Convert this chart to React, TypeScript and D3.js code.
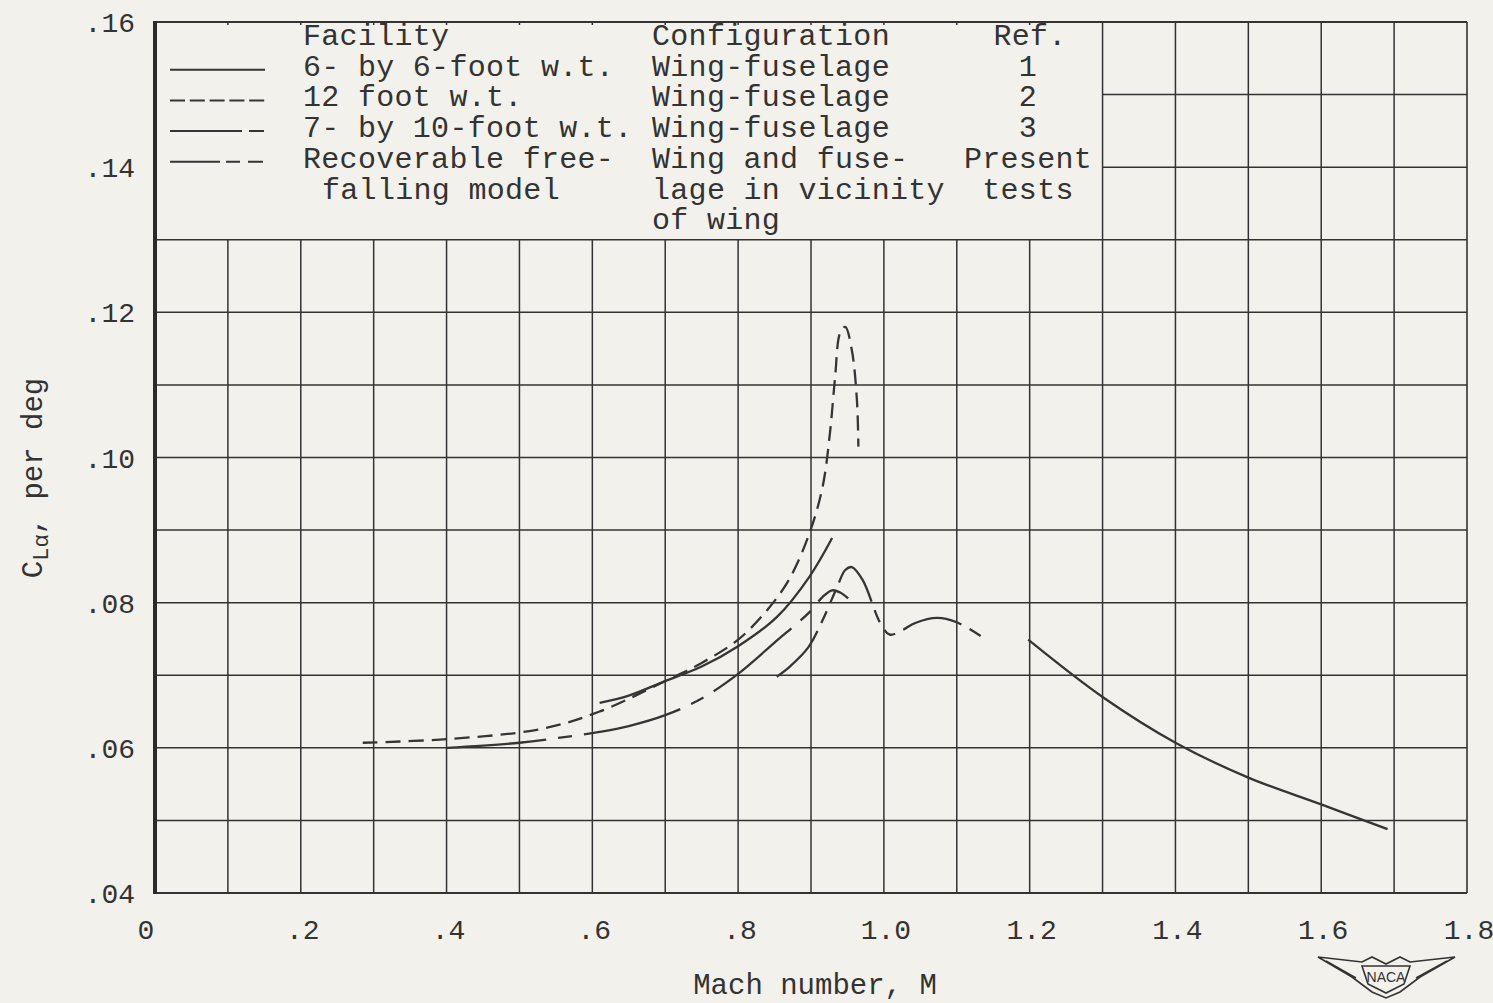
import React from "react";
import * as d3 from "d3";

// ---- data ----
const xTicks = [0, 0.2, 0.4, 0.6, 0.8, 1.0, 1.2, 1.4, 1.6, 1.8];
const xTickLabels = ["0", ".2", ".4", ".6", ".8", "1.0", "1.2", "1.4", "1.6", "1.8"];
const yTicks = [0.04, 0.06, 0.08, 0.1, 0.12, 0.14, 0.16];
const yTickLabels = [".04", ".06", ".08", ".10", ".12", ".14", ".16"];

const m12ft = [0.285, 0.4, 0.53, 0.61, 0.7, 0.75, 0.8, 0.84, 0.87, 0.898, 0.916, 0.926, 0.933, 0.94, 0.947, 0.956, 0.963, 0.965];
const cl12ft = [0.0607, 0.0612, 0.0626, 0.065, 0.0692, 0.0717, 0.0749, 0.079, 0.0832, 0.0896, 0.096, 0.1034, 0.111, 0.1172, 0.118, 0.1148, 0.1079, 0.1015];

const m6x6 = [0.61, 0.65, 0.7, 0.75, 0.8, 0.853, 0.898, 0.929];
const cl6x6 = [0.0662, 0.0672, 0.0692, 0.0712, 0.074, 0.078, 0.0836, 0.0889];

const m7x10 = [0.4, 0.5, 0.556, 0.61, 0.65, 0.7, 0.75, 0.8, 0.85, 0.898, 0.916, 0.929, 0.94, 0.951];
const cl7x10 = [0.06, 0.0607, 0.0614, 0.0622, 0.063, 0.0645, 0.0668, 0.0702, 0.0745, 0.0787, 0.0808, 0.0817, 0.0814, 0.0806];

const mFree1 = [0.853, 0.871, 0.896, 0.916, 0.936, 0.947, 0.956, 0.971, 0.995, 1.008, 1.025, 1.043, 1.073, 1.1, 1.136];
const clFree1 = [0.0698, 0.0712, 0.0738, 0.0776, 0.0822, 0.0845, 0.0849, 0.0831, 0.0772, 0.0756, 0.0762, 0.0772, 0.0779, 0.0773, 0.0752];

const mFree2 = [1.198, 1.3, 1.4, 1.5, 1.6, 1.691];
const clFree2 = [0.0749, 0.067, 0.0607, 0.0559, 0.0522, 0.0488];

const legendFacility = ["6- by 6-foot w.t.", "12 foot w.t.", "7- by 10-foot w.t.", "Recoverable free-"];
const legendConfig = ["Wing-fuselage", "Wing-fuselage", "Wing-fuselage", "Wing and fuse-"];
const legendRef = ["1", "2", "3", "Present"];

const INK = "#333";
const PAPER = "#f2f1ec";
const FONT = "'Liberation Mono', 'DejaVu Sans Mono', monospace";

export default function App() {
  const x = d3.scaleLinear().domain([0, 1.8]).range([155, 1467]);
  const y = d3.scaleLinear().domain([0.04, 0.16]).range([893, 22]);

  const line = d3
    .line<[number, number]>()
    .x((d) => x(d[0]))
    .y((d) => y(d[1]))
    .curve(d3.curveCatmullRom.alpha(0.5));

  const zip = (a: number[], b: number[]) => a.map((v, i) => [v, b[i]] as [number, number]);

  const series = [
    { pts: zip(m12ft, cl12ft), dash: "15,8" },
    { pts: zip(m6x6, cl6x6), dash: "none" },
    { pts: zip(m7x10, cl7x10), dash: "100,12,14,12" },
    { pts: zip(mFree1, clFree1), dash: "62,9,13,9,13,9" },
    { pts: zip(mFree2, clFree2), dash: "none" },
  ];

  const vGrid = d3.range(1, 18).map((i) => i / 10);
  const hGrid = d3.range(5, 16).map((i) => i / 100);

  const legendX0 = 170;
  const legendX1 = 265;
  const rowY = (i: number) => 36 + i * 30.7;
  const legendDash = ["none", "15,4.8", "72,7,15", "50,6,14,8,15"];

  return (
    <svg
      width={1493}
      height={1003}
      style={{ position: "absolute", left: 0, top: 0, background: PAPER }}
    >
      <rect x={0} y={0} width={1493} height={1003} fill={PAPER} />

      {/* grid */}
      <g stroke={INK} strokeWidth={1.5}>
        {vGrid.map((v) => (
          <line
            key={"v" + v}
            x1={x(v)}
            x2={x(v)}
            y1={y(0.04)}
            y2={v < 1.25 ? y(0.13) : y(0.16)}
          />
        ))}
        {hGrid.map((h) => (
          <line
            key={"h" + h}
            x1={h > 0.135 ? x(1.3) : x(0)}
            x2={x(1.8)}
            y1={y(h)}
            y2={y(h)}
          />
        ))}
        {vGrid
          .filter((v) => v < 1.25)
          .map((v) => (
            <line key={"t" + v} x1={x(v)} x2={x(v)} y1={y(0.16)} y2={y(0.16) + 3} />
          ))}
        {/* frame */}
        <line x1={x(0)} x2={x(1.8)} y1={y(0.16)} y2={y(0.16)} strokeWidth={1.8} />
        <line x1={x(0)} x2={x(1.8)} y1={y(0.04)} y2={y(0.04)} strokeWidth={1.8} />
        <line x1={x(1.8)} x2={x(1.8)} y1={y(0.16)} y2={y(0.04)} strokeWidth={1.6} />
        <line x1={x(0)} x2={x(0)} y1={y(0.16) - 1} y2={y(0.04) + 1} strokeWidth={4} stroke="#2a2a2a" />
      </g>

      {/* curves */}
      <g fill="none" stroke="#353535" strokeWidth={2.3} strokeLinecap="butt">
        {series.map((s, i) => (
          <path key={i} d={line(s.pts) || ""} strokeDasharray={s.dash} />
        ))}
      </g>

      {/* legend */}
      <g fontFamily={FONT} fontSize={30} fill={INK} letterSpacing={0.3}>
        <text x={303} y={rowY(0) + 9}>Facility</text>
        <text x={652} y={rowY(0) + 9}>Configuration</text>
        <text x={1030} y={rowY(0) + 9} textAnchor="middle">Ref.</text>
        {legendFacility.map((t, i) => (
          <g key={t}>
            <line
              x1={legendX0}
              x2={legendX1}
              y1={rowY(i + 1) + 3}
              y2={rowY(i + 1) + 3}
              stroke="#353535"
              strokeWidth={2}
              strokeDasharray={legendDash[i]}
            />
            <text x={303} y={rowY(i + 1) + 9}>{t}</text>
            <text x={652} y={rowY(i + 1) + 9}>{legendConfig[i]}</text>
            <text x={1028} y={rowY(i + 1) + 9} textAnchor="middle">{legendRef[i]}</text>
          </g>
        ))}
        <text x={322} y={rowY(5) + 9}>falling model</text>
        <text x={652} y={rowY(5) + 9}>lage in vicinity</text>
        <text x={1028} y={rowY(5) + 9} textAnchor="middle">tests</text>
        <text x={652} y={rowY(6) + 9}>of wing</text>
      </g>

      {/* tick labels */}
      <g fontFamily={FONT} fontSize={28} fill={INK}>
        {yTicks.map((t, i) => (
          <text key={t} x={135} y={y(t) + 10} textAnchor="end">
            {yTickLabels[i]}
          </text>
        ))}
        {xTicks.map((t, i) => (
          <text key={t} x={x(t) + (i === 0 ? -9 : 2)} y={939} textAnchor="middle">
            {xTickLabels[i]}
          </text>
        ))}
      </g>

      {/* axis titles */}
      <text
        x={815}
        y={994}
        textAnchor="middle"
        fontFamily={FONT}
        fontSize={29}
        fill={INK}
      >
        Mach number, M
      </text>
      <text
        transform="translate(42,478) rotate(-90)"
        textAnchor="middle"
        fontFamily={FONT}
        fontSize={29}
        fill={INK}
      >
        C
        <tspan fontSize={22} dy={6}>Lα</tspan>
        <tspan dy={-6}>, per deg</tspan>
      </text>

      {/* NACA wings emblem */}
      <g stroke={INK} strokeWidth={1.6} fill="none">
        <path d="M1318,957 L1362,962 L1372,957 L1386,964 L1400,957 L1410,962 L1455,957 L1420,977 L1400,992 L1386,998 L1372,992 L1352,977 Z" />
        <path d="M1326,961 L1356,978" />
        <path d="M1447,961 L1416,978" />
        <path d="M1362,966 L1410,966 L1404,984 L1386,993 L1368,984 Z" />
      </g>
      <text x={1386} y={982} textAnchor="middle" fontFamily="'Liberation Sans', sans-serif" fontSize={14} fill={INK}>
        NACA
      </text>
    </svg>
  );
}
